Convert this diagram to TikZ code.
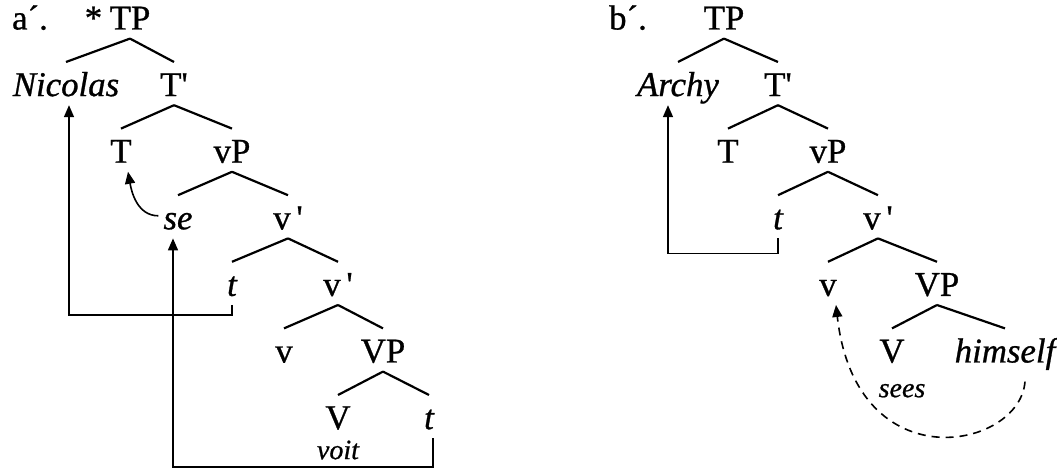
\documentclass[tikz,border=0pt]{standalone}
\usepackage{fontspec}
\setmainfont{Liberation Serif}[FakeBold=0.8]
\usetikzlibrary{trees,positioning,arrows.meta}

\tikzset{
  syn/.style={font=\fontsize{17.4}{21}\selectfont, text height=11.5pt, text depth=2pt, inner sep=2pt},
  gloss/.style={font=\fontsize{14}{16}\selectfont\itshape, inner sep=1pt},
  mvline/.style={line width=.8pt, -{Triangle[length=6pt,width=5pt]}},
  dashmv/.style={mvline, dash pattern=on 4pt off 3pt},
  synlines/.style={level distance=33.3pt, sibling distance=50pt,
    every node/.style={syn}, line width=1.1pt,
    edge from parent path={(\tikzparentnode.south) -- ([yshift=3pt]\tikzchildnode.north)}},
}

\begin{document}
\begin{tikzpicture}[x=0.5pt,y=0.5pt]
  \useasboundingbox (0,0) rectangle (1057,470);

  % a': reflexive clitic
  \begin{scope}[synlines]
  \node (tpa) at (130,450) {TP}
    child[xshift=-7pt] {node (nic) {\itshape Nicolas}}
    child[xshift=-3pt] {node (tbara) {T\textquotesingle}
      child[xshift=-1.5pt] {node (ta) {T}}
      child[xshift=4pt] {node (vpa) {vP}
        child[xshift=-2pt] {node (se) {\itshape se}}
        child[xshift=3pt] {node (vbara) {v\,\textquotesingle}
          child[xshift=-3pt] {node (tra) {\itshape t}}
          child {node (vbarb) {v\,\textquotesingle}
            child[xshift=-2pt] {node (va) {v}}
            child[xshift=-2.5pt] {node (vpb) {VP}
              child[xshift=2.5pt] {node (bigva) {V}}
              child[xshift=-2pt] {node (trb) {\itshape t}}}}}}};
  \end{scope}
  \node[syn, left=-1pt of tpa] (star) {*};
  \node[syn] (laba) at (30,450) {a´.};
  \node[gloss, below=0pt of bigva] (voit) {voit};

  \coordinate (floor) at (0,3);
  \draw[mvline] (tra.south) -- ++(0,-10) -| ([xshift=1.5pt]nic.south);
  \draw[mvline] ([xshift=2pt]trb.south) -- ([xshift=2pt]trb.south |- floor)
    -| ([xshift=-2.5pt]se.south);
  \draw[mvline] ([yshift=2pt]se.west) to[out=180,in=-80] ([xshift=3.5pt]ta.south);

  % b': reflexive pronoun
  \begin{scope}[synlines]
  \node (tpb) at (724,450) {TP}
    child[xshift=2pt] {node (archy) {\itshape Archy}}
    child[xshift=2pt] {node (tbarb) {T\textquotesingle}
      child {node (tb) {T}}
      child {node (vpc) {vP}
        child {node (trc) {\itshape t}}
        child {node (vbarc) {v\,\textquotesingle}
          child {node (vb) {v}}
          child[xshift=4.5pt] {node (vpd) {VP}
            child[xshift=2.5pt] {node (bigvb) {V}}
            child[xshift=9pt] {node (him) {\itshape himself}}}}}};
  \end{scope}
  \node[syn] (labb) at (628,450) {b´.};
  \node[gloss, below=5pt of bigvb, xshift=5pt] (sees) {sees};

  \draw[mvline] (trc.south) -- ++(0,-15) -| ([xshift=-5pt]archy.south);
  \draw[dashmv] ([xshift=10pt,yshift=-5pt]him.south)
    .. controls +(-5,-68) and +(20,-178) .. ([xshift=4pt]vb.south);
\end{tikzpicture}
\end{document}
